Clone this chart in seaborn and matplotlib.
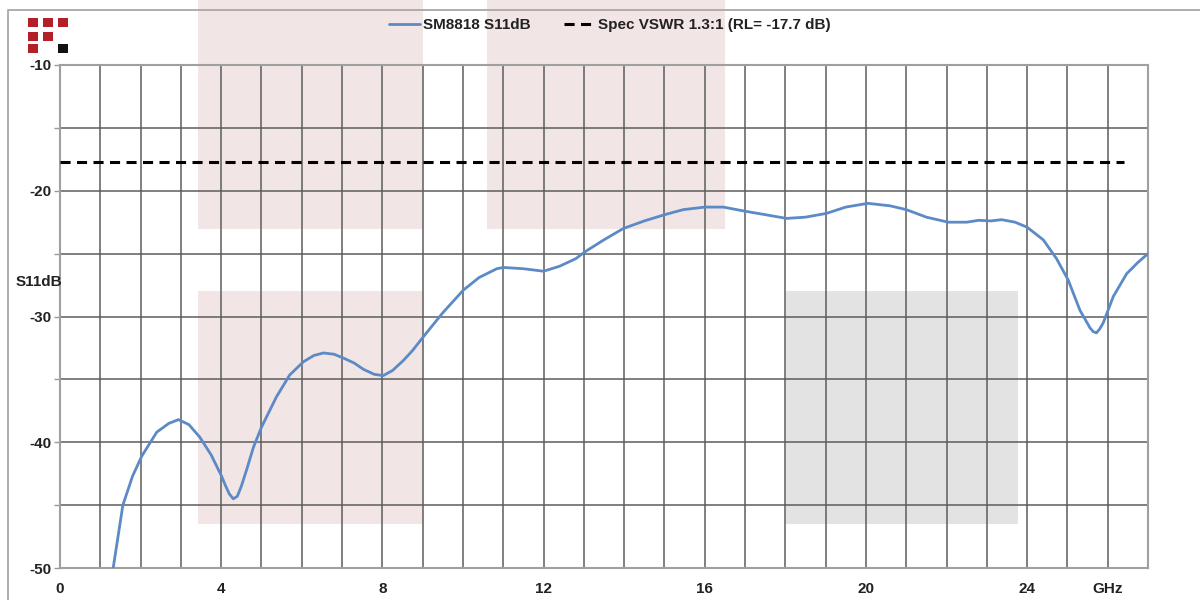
import numpy as np
import pandas as pd
import matplotlib
matplotlib.use('Agg')
import matplotlib.pyplot as plt
from matplotlib.patches import Rectangle
from matplotlib.lines import Line2D
import seaborn as sns

# S11 trace
freq_ghz = [1.32, 1.56, 1.8, 2.03, 2.4, 2.7, 2.94, 3.2, 3.47, 3.75, 4.01, 4.1, 4.2, 4.3,
            4.4, 4.5, 4.63, 4.8, 5.0, 5.37, 5.7, 6.04, 6.3, 6.54, 6.8, 7.03, 7.3, 7.53,
            7.8, 8.02, 8.25, 8.52, 8.75, 9.02, 9.5, 10.01, 10.4, 10.84, 11.0, 11.5,
            12.0, 12.4, 12.8, 13.03, 13.5, 13.98, 14.5, 15.01, 15.47, 16.0, 16.46,
            17.04, 17.5, 18.03, 18.5, 19.02, 19.5, 20.05, 20.6, 21.0, 21.5, 22.04,
            22.5, 22.8, 23.1, 23.37, 23.7, 24.0, 24.4, 24.73, 25.02, 25.31, 25.56,
            25.64, 25.72, 25.8, 25.89, 26.14, 26.47, 26.75, 27.0]
s11_db = [-50.0, -45.0, -42.7, -41.1, -39.2, -38.5, -38.2, -38.6, -39.6, -41.0, -42.7,
          -43.4, -44.1, -44.5, -44.3, -43.5, -42.2, -40.4, -38.8, -36.4, -34.65, -33.6,
          -33.1, -32.9, -33.0, -33.3, -33.7, -34.2, -34.6, -34.7, -34.3, -33.5, -32.7,
          -31.6, -29.7, -27.9, -26.9, -26.2, -26.1, -26.2, -26.4, -26.0, -25.4, -24.85,
          -23.9, -23.0, -22.4, -21.9, -21.5, -21.3, -21.3, -21.65, -21.9, -22.2, -22.1,
          -21.8, -21.3, -21.0, -21.2, -21.5, -22.1, -22.5, -22.5, -22.35, -22.4, -22.3,
          -22.5, -22.9, -23.9, -25.4, -27.1, -29.5, -30.9, -31.2, -31.3, -31.0, -30.5,
          -28.4, -26.6, -25.7, -25.0]

# spec limit line
spec_freq = [0, 26.4]
spec_rl = [-17.7, -17.7]

trace_label = 'SM8818 S11dB'
spec_label = 'Spec VSWR 1.3:1 (RL= -17.7 dB)'

x_labels = ['0', '4', '8', '12', '16', '20', '24', 'GHz']
x_label_pos = [0, 4, 8, 12, 16, 20, 24, 26]

sns.set_theme(style='white')
plt.rcParams['font.family'] = ['Liberation Sans', 'DejaVu Sans']

W, H = 1200, 600
fig = plt.figure(figsize=(12, 6), dpi=100)
ax = fig.add_axes([60 / W, 1 - 568 / H, (1148 - 60) / W, (568 - 65) / H])
ax.set_facecolor('none')

def px_rect(x0, y0, x1, y1, color, z=-1):
    r = Rectangle((x0 / W, 1 - y1 / H), (x1 - x0) / W, (y1 - y0) / H,
                  transform=fig.transFigure, facecolor=color, edgecolor='none', zorder=z)
    fig.patches.append(r)

# shaded blocks behind the plot
px_rect(198, 0, 423, 229, '#f2e5e5')
px_rect(487, 0, 725, 229, '#f2e5e5')
px_rect(198, 291, 423, 524, '#f2e5e5')
px_rect(786, 291, 1018, 524, '#e3e3e3')

# logo squares
red = '#b3202a'
for (cx, cy, c) in [(28, 18, red), (43, 18, red), (58, 18, red),
                    (28, 32, red), (43, 32, red),
                    (28, 44, red), (58, 44, '#111111')]:
    px_rect(cx, cy, cx + 10, cy + 9, c, z=2)

# outer frame (left + top)
fig.lines.append(Line2D([7.5 / W, 7.5 / W, 1], [0, 1 - 9.5 / H, 1 - 9.5 / H],
                        transform=fig.transFigure, color='#a8a8a8', lw=1.3))

df = pd.DataFrame({'freq': freq_ghz, 's11': s11_db})
sns.lineplot(data=df, x='freq', y='s11', ax=ax, color='#5b8ac6', lw=2.0,
             zorder=4, legend=False)
spec = pd.DataFrame({'freq': spec_freq, 'rl': spec_rl})
sns.lineplot(data=spec, x='freq', y='rl', ax=ax, color='black', lw=2.2,
             zorder=4, legend=False)
ax.lines[-1].set_dashes((3.3, 2.1))

ax.set_xlim(0, 27)
ax.set_ylim(-50, -10)

ax.set_xticks(range(0, 28))
xt = [''] * 28
for p, l in zip(x_label_pos, x_labels):
    xt[p] = l
ax.set_xticklabels(xt, fontsize=11, fontweight='bold', color='#222222')
ax.set_yticks(np.arange(-50, -9, 5))
yt = ['' if v % 10 else str(int(v)) for v in np.arange(-50, -9, 5)]
ax.set_yticklabels(yt, fontsize=11, fontweight='bold', color='#222222')
ax.tick_params(axis='x', length=0, pad=10)
ax.tick_params(axis='y', length=4, width=1, color='#999999', pad=2, left=True)

ax.grid(True, color='#5c5c5c', lw=1.1, zorder=1)
ax.set_axisbelow(True)
for s in ax.spines.values():
    s.set_color('#a0a0a0')
    s.set_linewidth(1.5)
    s.set_visible(True)

ax.set_xlabel('')
ax.set_ylabel('')
fig.text(16 / W, 1 - 282 / H, 'S11dB', fontsize=11, fontweight='bold',
         color='#222222', ha='left', va='center')

handles = ax.lines[:2]
fig.legend(handles, [trace_label, spec_label], loc='center', ncol=2, frameon=False,
           bbox_to_anchor=(610 / W, 1 - 25 / H),
           prop={'weight': 'bold', 'size': 11}, handlelength=2.0,
           handletextpad=0.2, columnspacing=2.2)
for t in fig.legends[0].get_texts():
    t.set_color('#222222')

fig.savefig('out.png', dpi=100)
